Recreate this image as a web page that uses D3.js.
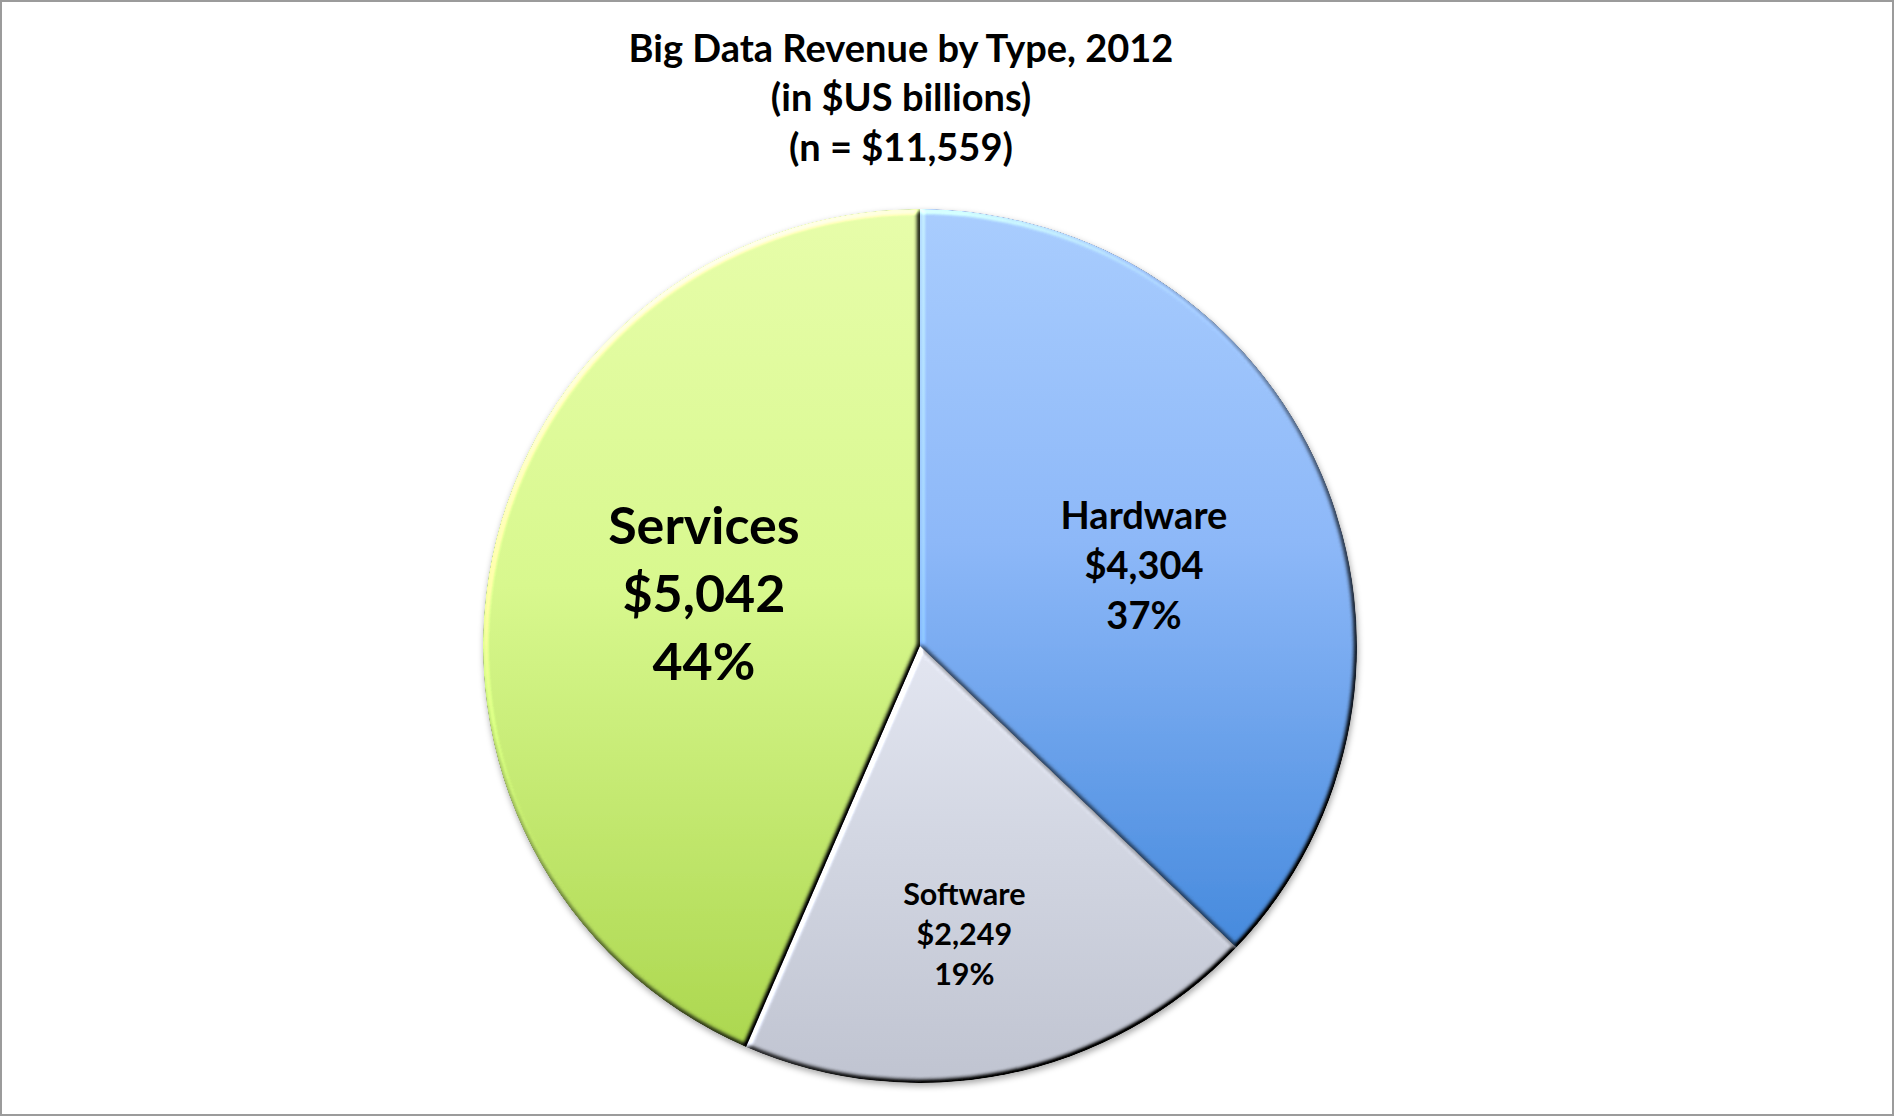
<!DOCTYPE html>
<html>
<head>
<meta charset="utf-8">
<script src="https://cdn.jsdelivr.net/npm/d3@7"></script>
<style>
  html, body { margin: 0; padding: 0; background: #fff; }
  svg { display: block; }
</style>
</head>
<body>
<script>
// ---- data ----
const titleLines = ["Big Data Revenue by Type, 2012", "(in $US billions)", "(n = $11,559)"];
const categories = ["Hardware", "Software", "Services"];
const values = [4304, 2249, 5042];
const valueLabels = ["$4,304", "$2,249", "$5,042"];
const percentLabels = ["37%", "19%", "44%"];

// ---- layout / style ----
const W = 1894, H = 1117;
const cx = 920, cy = 646, R = 437;
const FONT = "Lato, 'Open Sans', sans-serif";
const gradStops = {
  Hardware: ["#A9CDFE", "#8DB8F8", "#468ADD"],
  Software: ["#E3E6F1", "#D2D6E2", "#C0C4D1"],
  Services: ["#E7FDAA", "#D8F88E", "#ACD74F"]
};
const labelStyle = {
  Hardware: { size: 38, lh: 50, f: 0.545, shift: 3.3 },
  Software: { size: 30.5, lh: 40, f: 0.667, shift: 2.7 },
  Services: { size: 52, lh: 68, f: 0.509, shift: 2.0 }
};

const svg = d3.select("body").append("svg")
  .attr("width", W).attr("height", H);

const defs = svg.append("defs");

categories.forEach(c => {
  const g = defs.append("linearGradient")
    .attr("id", "grad-" + c)
    .attr("x1", 0).attr("y1", 0).attr("x2", 0).attr("y2", 1);
  const s = gradStops[c];
  g.append("stop").attr("offset", "0%").attr("stop-color", s[0]);
  g.append("stop").attr("offset", "45%").attr("stop-color", s[1]);
  g.append("stop").attr("offset", "100%").attr("stop-color", s[2]);
});

// bevel filter
const bevel = defs.append("filter").attr("id", "bevel")
  .attr("x", "-5%").attr("y", "-5%").attr("width", "110%").attr("height", "110%")
  .attr("color-interpolation-filters", "sRGB");
bevel.append("feGaussianBlur").attr("in", "SourceAlpha").attr("stdDeviation", 2.5).attr("result", "blur");
const dl = bevel.append("feDiffuseLighting").attr("in", "blur").attr("surfaceScale", 4)
  .attr("diffuseConstant", 1).attr("lighting-color", "#ffffff").attr("result", "light");
dl.append("feDistantLight").attr("azimuth", 235).attr("elevation", 45);
bevel.append("feComposite").attr("in", "SourceGraphic").attr("in2", "light")
  .attr("operator", "arithmetic").attr("k1", 1.414).attr("k2", 0).attr("k3", 0).attr("k4", 0)
  .attr("result", "lit");
bevel.append("feComposite").attr("in", "lit").attr("in2", "SourceAlpha").attr("operator", "in");

// drop shadow
const shadow = defs.append("filter").attr("id", "shadow")
  .attr("x", "-10%").attr("y", "-10%").attr("width", "120%").attr("height", "120%");
shadow.append("feDropShadow").attr("dx", 1).attr("dy", 3).attr("stdDeviation", 3)
  .attr("flood-color", "#000").attr("flood-opacity", 0.35);

// border
svg.append("rect")
  .attr("x", 1).attr("y", 1).attr("width", W - 2).attr("height", H - 3)
  .attr("fill", "#fff").attr("stroke", "#9b9b9b").attr("stroke-width", 2);

// title
svg.append("text")
  .attr("x", 901).attr("y", 48)
  .attr("text-anchor", "middle")
  .style("font-family", FONT).style("font-weight", 700).style("font-size", "38px")
  .attr("fill", "#000")
  .selectAll("tspan").data(titleLines).join("tspan")
  .attr("x", 901)
  .attr("y", (d, i) => 48 + i * 49.5)
  .attr("dy", "0.36em")
  .text(d => d);

// pie
const data = categories.map((c, i) => ({
  cat: c, value: values[i], vLabel: valueLabels[i], pLabel: percentLabels[i]
}));
const pie = d3.pie().sort(null).value(d => d.value);
const arcs = pie(data);
const arc = d3.arc().innerRadius(0).outerRadius(R);

const pieG = svg.append("g").attr("transform", `translate(${cx},${cy})`)
  .attr("filter", "url(#shadow)");

pieG.selectAll("path.slice").data(arcs).join("path")
  .attr("class", "slice")
  .attr("d", arc)
  .attr("fill", d => `url(#grad-${d.data.cat})`)
  .attr("filter", "url(#bevel)");

// labels
const labG = svg.append("g").attr("transform", `translate(${cx},${cy})`);
arcs.forEach(a => {
  const st = labelStyle[a.data.cat];
  const mid = (a.startAngle + a.endAngle) / 2 + st.shift * Math.PI / 180;
  const x = Math.sin(mid) * R * st.f;
  const y = -Math.cos(mid) * R * st.f;
  const lines = [a.data.cat, a.data.vLabel, a.data.pLabel];
  labG.append("text")
    .attr("text-anchor", "middle")
    .style("font-family", FONT).style("font-weight", 700).style("font-size", st.size + "px")
    .attr("fill", "#000")
    .selectAll("tspan").data(lines).join("tspan")
    .attr("x", x)
    .attr("y", (d, i) => y + (i - 1) * st.lh)
    .attr("dy", "0.36em")
    .text(d => d);
});
</script>
</body>
</html>
